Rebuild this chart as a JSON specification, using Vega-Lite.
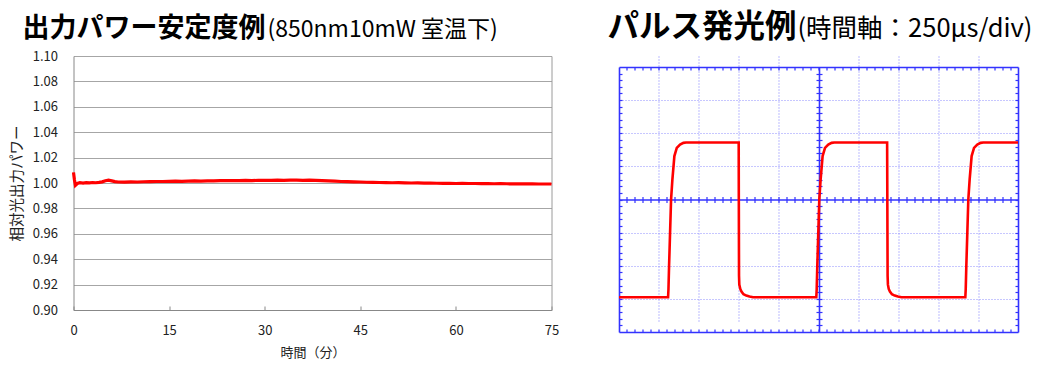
{
  "$schema": "https://vega.github.io/schema/vega-lite/v6.json",
  "autosize": "none",
  "padding": {"left": 73.5, "top": 56, "right": 20, "bottom": 40},
  "width": 944.5,
  "height": 276,
  "background": "white",
  "config": {"font": "Noto Sans CJK JP", "view": {"stroke": null}},
  "datasets": {
    "power": [
      {"minutes": 0, "power": 1.0084}, {"minutes": 0.15, "power": 1.0024}, {"minutes": 0.3, "power": 0.9982},
      {"minutes": 0.6, "power": 0.9996}, {"minutes": 1, "power": 1.0002}, {"minutes": 1.5, "power": 0.9999},
      {"minutes": 2, "power": 1.0003}, {"minutes": 2.5, "power": 1.0001}, {"minutes": 3, "power": 1.0004},
      {"minutes": 3.5, "power": 1.0002}, {"minutes": 4, "power": 1.0005}, {"minutes": 4.5, "power": 1.0009},
      {"minutes": 5, "power": 1.0018}, {"minutes": 5.5, "power": 1.0022}, {"minutes": 6, "power": 1.0017},
      {"minutes": 6.5, "power": 1.0011}, {"minutes": 7, "power": 1.0008}, {"minutes": 8, "power": 1.0007},
      {"minutes": 9, "power": 1.0009}, {"minutes": 10, "power": 1.0008}, {"minutes": 11, "power": 1.001},
      {"minutes": 12, "power": 1.0011}, {"minutes": 13, "power": 1.0012}, {"minutes": 14, "power": 1.0012},
      {"minutes": 15, "power": 1.0013}, {"minutes": 16, "power": 1.0014}, {"minutes": 17, "power": 1.0013},
      {"minutes": 18, "power": 1.0015}, {"minutes": 19, "power": 1.0016}, {"minutes": 20, "power": 1.0015},
      {"minutes": 21, "power": 1.0017}, {"minutes": 22, "power": 1.0016}, {"minutes": 23, "power": 1.0018},
      {"minutes": 24, "power": 1.0019}, {"minutes": 25, "power": 1.0018}, {"minutes": 26, "power": 1.0019},
      {"minutes": 27, "power": 1.002}, {"minutes": 28, "power": 1.0019}, {"minutes": 29, "power": 1.0021},
      {"minutes": 30, "power": 1.002}, {"minutes": 31, "power": 1.0021}, {"minutes": 32, "power": 1.0022},
      {"minutes": 33, "power": 1.0021}, {"minutes": 34, "power": 1.0023}, {"minutes": 35, "power": 1.0022},
      {"minutes": 36, "power": 1.0021}, {"minutes": 37, "power": 1.0022}, {"minutes": 38, "power": 1.002},
      {"minutes": 39, "power": 1.0018}, {"minutes": 40, "power": 1.0016}, {"minutes": 41, "power": 1.0014},
      {"minutes": 42, "power": 1.0012}, {"minutes": 43, "power": 1.0011}, {"minutes": 44, "power": 1.0009},
      {"minutes": 45, "power": 1.0008}, {"minutes": 46, "power": 1.0006}, {"minutes": 47, "power": 1.0005},
      {"minutes": 48, "power": 1.0004}, {"minutes": 49, "power": 1.0003}, {"minutes": 50, "power": 1.0002},
      {"minutes": 51, "power": 1.0003}, {"minutes": 52, "power": 1.0001}, {"minutes": 53, "power": 1.0},
      {"minutes": 54, "power": 1.0001}, {"minutes": 55, "power": 0.9999}, {"minutes": 56, "power": 1.0},
      {"minutes": 57, "power": 0.9998}, {"minutes": 58, "power": 0.9997}, {"minutes": 59, "power": 0.9998},
      {"minutes": 60, "power": 0.9996}, {"minutes": 61, "power": 0.9997}, {"minutes": 62, "power": 0.9996},
      {"minutes": 63, "power": 0.9996}, {"minutes": 64, "power": 0.9995}, {"minutes": 65, "power": 0.9995},
      {"minutes": 66, "power": 0.9994}, {"minutes": 67, "power": 0.9995}, {"minutes": 68, "power": 0.9994},
      {"minutes": 69, "power": 0.9993}, {"minutes": 70, "power": 0.9994}, {"minutes": 71, "power": 0.9993},
      {"minutes": 72, "power": 0.9993}, {"minutes": 73, "power": 0.9992}, {"minutes": 74, "power": 0.9992},
      {"minutes": 75, "power": 0.9992}
    ],
    "pulse": [
      {"t": -5, "v": -2.95},
      {"t": -3.77, "v": -2.95}, {"t": -3.76, "v": -2.7}, {"t": -3.745, "v": -2.0}, {"t": -3.72, "v": -1.0},
      {"t": -3.695, "v": 0.0}, {"t": -3.662, "v": 0.6}, {"t": -3.612, "v": 1.31}, {"t": -3.552, "v": 1.56},
      {"t": -3.47, "v": 1.66}, {"t": -3.386, "v": 1.71}, {"t": -3.32, "v": 1.72},
      {"t": -2.0, "v": 1.72}, {"t": -1.997, "v": 0.0}, {"t": -1.992, "v": -2.3}, {"t": -1.985, "v": -2.57},
      {"t": -1.96, "v": -2.7}, {"t": -1.93, "v": -2.78}, {"t": -1.88, "v": -2.86}, {"t": -1.81, "v": -2.9},
      {"t": -1.73, "v": -2.93}, {"t": -1.64, "v": -2.95},
      {"t": -0.055, "v": -2.95}, {"t": -0.045, "v": -2.7}, {"t": -0.03, "v": -2.0}, {"t": -0.005, "v": -1.0},
      {"t": 0.02, "v": 0.0}, {"t": 0.053, "v": 0.6}, {"t": 0.103, "v": 1.31}, {"t": 0.163, "v": 1.56},
      {"t": 0.245, "v": 1.66}, {"t": 0.329, "v": 1.71}, {"t": 0.395, "v": 1.72},
      {"t": 1.72, "v": 1.72}, {"t": 1.725, "v": 0.0}, {"t": 1.732, "v": -2.3}, {"t": 1.74, "v": -2.57},
      {"t": 1.76, "v": -2.7}, {"t": 1.79, "v": -2.78}, {"t": 1.84, "v": -2.86}, {"t": 1.91, "v": -2.9},
      {"t": 1.99, "v": -2.93}, {"t": 2.08, "v": -2.95},
      {"t": 3.68, "v": -2.95}, {"t": 3.69, "v": -2.7}, {"t": 3.705, "v": -2.0}, {"t": 3.73, "v": -1.0},
      {"t": 3.755, "v": 0.0}, {"t": 3.788, "v": 0.6}, {"t": 3.838, "v": 1.31}, {"t": 3.898, "v": 1.56},
      {"t": 3.98, "v": 1.66}, {"t": 4.064, "v": 1.71}, {"t": 4.13, "v": 1.72},
      {"t": 5, "v": 1.72}
    ]
  },
  "layer": [
    {
      "data": {"name": "power"},
      "mark": {"type": "line", "color": "#ff0000", "strokeWidth": 3.2},
      "encoding": {
        "x": {
          "field": "minutes", "type": "quantitative",
          "scale": {"domain": [0, 75], "range": [0, 478], "nice": false, "zero": false},
          "axis": {
            "orient": "bottom", "offset": -22,
            "values": [0, 15, 30, 45, 60, 75], "grid": false, "labelFlush": false,
            "domainColor": "#888888", "tickColor": "#888888", "tickSize": -4,
            "labelPadding": 18, "labelFontSize": 13, "labelColor": "#222222",
            "title": "時間（分）", "titleFontSize": 13, "titleFontWeight": "normal", "titleColor": "#222222",
            "titleY": 42, "titleBaseline": "middle", "titleAlign": "center", "titleX": 239
          }
        },
        "y": {
          "field": "power", "type": "quantitative",
          "scale": {"domain": [0.9, 1.1], "range": [254, 0], "nice": false, "zero": false},
          "axis": {
            "orient": "left",
            "values": [0.9, 0.92, 0.94, 0.96, 0.98, 1.0, 1.02, 1.04, 1.06, 1.08, 1.1],
            "format": ".2f", "grid": true, "gridColor": "#a6a6a6", "gridWidth": 1,
            "domainColor": "#888888", "ticks": false, "labelPadding": 16,
            "labelFontSize": 13, "labelColor": "#222222",
            "title": "相対光出力パワー", "titleFontSize": 14.5, "titleFontWeight": "normal", "titleColor": "#222222",
            "titleX": -56, "titleY": 127, "titleAngle": -90, "titleBaseline": "middle", "titleAlign": "center"
          }
        }
      }
    },
    {
      "data": {"name": "power"},
      "mark": {"type": "point", "opacity": 0},
      "encoding": {
        "x": {
          "field": "minutes", "type": "quantitative",
          "scale": {"domain": [0, 75], "range": [0, 478], "nice": false, "zero": false},
          "axis": {
            "orient": "top", "domain": false, "ticks": false, "labels": false, "grid": false,
            "title": "出力パワー安定度例", "titleFontSize": 27, "titleFontWeight": "bold", "titleColor": "#000000",
            "titleX": -51.5, "titleY": -20, "titleAlign": "left", "titleBaseline": "alphabetic"
          }
        },
        "y": {
          "field": "power", "type": "quantitative",
          "scale": {"domain": [0.9, 1.1], "range": [254, 0], "nice": false, "zero": false},
          "axis": {
            "orient": "right", "offset": -466.5, "domain": true, "domainColor": "#9a9a9a",
            "ticks": false, "labels": false, "grid": false, "title": null
          }
        }
      }
    },
    {
      "data": {"name": "power"},
      "mark": {"type": "point", "opacity": 0},
      "encoding": {
        "x": {
          "field": "minutes", "type": "quantitative",
          "scale": {"domain": [0, 75], "range": [0, 478], "nice": false, "zero": false},
          "axis": {
            "orient": "top", "domain": false, "ticks": false, "labels": false, "grid": false,
            "title": "(850nm10mW 室温下)", "titleFontSize": 23, "titleFontWeight": "normal", "titleColor": "#000000",
            "titleX": 193.5, "titleY": -20, "titleAlign": "left", "titleBaseline": "alphabetic"
          }
        }
      }
    },
    {
      "data": {"name": "pulse"},
      "mark": {"type": "line", "color": "#ff0000", "strokeWidth": 2.6},
      "encoding": {
        "x": {
          "field": "t", "type": "quantitative",
          "scale": {"domain": [-5, 5], "range": [545.5, 944.5], "nice": false, "zero": false},
          "axis": {
            "orient": "bottom", "values": [-4, -3, -2, -1, 1, 2, 3, 4], "grid": true,
            "gridColor": "#9090ff", "gridDash": [1, 2], "gridWidth": 1.2,
            "domain": true, "domainColor": "#3333ff", "domainWidth": 1.6,
            "ticks": false, "labels": false, "title": null
          }
        },
        "y": {
          "field": "v", "type": "quantitative",
          "scale": {"domain": [-4, 4], "range": [276, 11], "nice": false, "zero": false},
          "axis": {
            "orient": "left", "offset": -545.5, "values": [-3, -2, -1, 1, 2, 3], "grid": true,
            "gridColor": "#9090ff", "gridDash": [1, 2], "gridWidth": 1.2,
            "domain": true, "domainColor": "#3333ff", "domainWidth": 1.6,
            "ticks": false, "labels": false, "title": null
          }
        }
      }
    },
    {
      "data": {"name": "pulse"},
      "mark": {"type": "point", "opacity": 0},
      "encoding": {
        "x": {
          "field": "t", "type": "quantitative",
          "scale": {"domain": [-5, 5], "range": [545.5, 944.5], "nice": false, "zero": false},
          "axis": {
            "orient": "top", "offset": -11,
            "values": [-4.8,-4.6,-4.4,-4.2,-4,-3.8,-3.6,-3.4,-3.2,-3,-2.8,-2.6,-2.4,-2.2,-2,-1.8,-1.6,-1.4,-1.2,-1,-0.8,-0.6,-0.4,-0.2,0,0.2,0.4,0.6,0.8,1,1.2,1.4,1.6,1.8,2,2.2,2.4,2.6,2.8,3,3.2,3.4,3.6,3.8,4,4.2,4.4,4.6,4.8],
            "grid": false, "domain": true, "domainColor": "#3333ff", "domainWidth": 1.6,
            "ticks": true, "tickColor": "#3333ff", "tickSize": -3, "tickWidth": 1.2,
            "labels": false, "title": null
          }
        },
        "y": {
          "field": "v", "type": "quantitative",
          "scale": {"domain": [-4, 4], "range": [276, 11], "nice": false, "zero": false},
          "axis": {
            "orient": "right",
            "values": [-3.8,-3.6,-3.4,-3.2,-3,-2.8,-2.6,-2.4,-2.2,-2,-1.8,-1.6,-1.4,-1.2,-1,-0.8,-0.6,-0.4,-0.2,0,0.2,0.4,0.6,0.8,1,1.2,1.4,1.6,1.8,2,2.2,2.4,2.6,2.8,3,3.2,3.4,3.6,3.8],
            "grid": false, "domain": true, "domainColor": "#3333ff", "domainWidth": 1.6,
            "ticks": true, "tickColor": "#3333ff", "tickSize": -3, "tickWidth": 1.2,
            "labels": false, "title": null
          }
        }
      }
    },
    {
      "data": {"name": "pulse"},
      "mark": {"type": "point", "opacity": 0},
      "encoding": {
        "x": {
          "field": "t", "type": "quantitative",
          "scale": {"domain": [-5, 5], "range": [545.5, 944.5], "nice": false, "zero": false},
          "axis": {
            "orient": "bottom",
            "values": [-4.8,-4.6,-4.4,-4.2,-4,-3.8,-3.6,-3.4,-3.2,-3,-2.8,-2.6,-2.4,-2.2,-2,-1.8,-1.6,-1.4,-1.2,-1,-0.8,-0.6,-0.4,-0.2,0,0.2,0.4,0.6,0.8,1,1.2,1.4,1.6,1.8,2,2.2,2.4,2.6,2.8,3,3.2,3.4,3.6,3.8,4,4.2,4.4,4.6,4.8],
            "grid": false, "domain": false,
            "ticks": true, "tickColor": "#3333ff", "tickSize": -3, "tickWidth": 1.2,
            "labels": false, "title": null
          }
        },
        "y": {
          "field": "v", "type": "quantitative",
          "scale": {"domain": [-4, 4], "range": [276, 11], "nice": false, "zero": false},
          "axis": {
            "orient": "left", "offset": -545.5,
            "values": [-3.8,-3.6,-3.4,-3.2,-3,-2.8,-2.6,-2.4,-2.2,-2,-1.8,-1.6,-1.4,-1.2,-1,-0.8,-0.6,-0.4,-0.2,0,0.2,0.4,0.6,0.8,1,1.2,1.4,1.6,1.8,2,2.2,2.4,2.6,2.8,3,3.2,3.4,3.6,3.8],
            "grid": false, "domain": false,
            "ticks": true, "tickColor": "#3333ff", "tickSize": -3, "tickWidth": 1.2,
            "labels": false, "title": null
          }
        }
      }
    },
    {
      "data": {"name": "pulse"},
      "mark": {"type": "point", "opacity": 0},
      "encoding": {
        "x": {
          "field": "t", "type": "quantitative",
          "scale": {"domain": [-5, 5], "range": [545.5, 944.5], "nice": false, "zero": false},
          "axis": {
            "orient": "bottom", "offset": -132.5,
            "values": [-4.8,-4.6,-4.4,-4.2,-4,-3.8,-3.6,-3.4,-3.2,-3,-2.8,-2.6,-2.4,-2.2,-2,-1.8,-1.6,-1.4,-1.2,-1,-0.8,-0.6,-0.4,-0.2,0.2,0.4,0.6,0.8,1,1.2,1.4,1.6,1.8,2,2.2,2.4,2.6,2.8,3,3.2,3.4,3.6,3.8,4,4.2,4.4,4.6,4.8],
            "grid": false, "domain": true, "domainColor": "#3333ff", "domainWidth": 1.6,
            "ticks": true, "tickColor": "#3333ff", "tickSize": 3, "tickWidth": 1.2,
            "labels": false, "title": null
          }
        },
        "y": {
          "field": "v", "type": "quantitative",
          "scale": {"domain": [-4, 4], "range": [276, 11], "nice": false, "zero": false},
          "axis": {
            "orient": "left", "offset": -745.5,
            "values": [-3.8,-3.6,-3.4,-3.2,-3,-2.8,-2.6,-2.4,-2.2,-2,-1.8,-1.6,-1.4,-1.2,-1,-0.8,-0.6,-0.4,-0.2,0.2,0.4,0.6,0.8,1,1.2,1.4,1.6,1.8,2,2.2,2.4,2.6,2.8,3,3.2,3.4,3.6,3.8],
            "grid": false, "domain": true, "domainColor": "#3333ff", "domainWidth": 1.6,
            "ticks": true, "tickColor": "#3333ff", "tickSize": 3, "tickWidth": 1.2,
            "labels": false, "title": null
          }
        }
      }
    },
    {
      "data": {"name": "pulse"},
      "mark": {"type": "point", "opacity": 0},
      "encoding": {
        "x": {
          "field": "t", "type": "quantitative",
          "scale": {"domain": [-5, 5], "range": [545.5, 944.5], "nice": false, "zero": false},
          "axis": {
            "orient": "bottom", "offset": -132.5,
            "values": [-4.8,-4.6,-4.4,-4.2,-4,-3.8,-3.6,-3.4,-3.2,-3,-2.8,-2.6,-2.4,-2.2,-2,-1.8,-1.6,-1.4,-1.2,-1,-0.8,-0.6,-0.4,-0.2,0.2,0.4,0.6,0.8,1,1.2,1.4,1.6,1.8,2,2.2,2.4,2.6,2.8,3,3.2,3.4,3.6,3.8,4,4.2,4.4,4.6,4.8],
            "grid": false, "domain": false,
            "ticks": true, "tickColor": "#3333ff", "tickSize": -3, "tickWidth": 1.2,
            "labels": false, "title": null
          }
        },
        "y": {
          "field": "v", "type": "quantitative",
          "scale": {"domain": [-4, 4], "range": [276, 11], "nice": false, "zero": false},
          "axis": {
            "orient": "left", "offset": -745.5,
            "values": [-3.8,-3.6,-3.4,-3.2,-3,-2.8,-2.6,-2.4,-2.2,-2,-1.8,-1.6,-1.4,-1.2,-1,-0.8,-0.6,-0.4,-0.2,0.2,0.4,0.6,0.8,1,1.2,1.4,1.6,1.8,2,2.2,2.4,2.6,2.8,3,3.2,3.4,3.6,3.8],
            "grid": false, "domain": false,
            "ticks": true, "tickColor": "#3333ff", "tickSize": -3, "tickWidth": 1.2,
            "labels": false, "title": null
          }
        }
      }
    },
    {
      "data": {"name": "pulse"},
      "mark": {"type": "point", "opacity": 0},
      "encoding": {
        "x": {
          "field": "t", "type": "quantitative",
          "scale": {"domain": [-5, 5], "range": [545.5, 944.5], "nice": false, "zero": false},
          "axis": {
            "orient": "top", "domain": false, "ticks": false, "labels": false, "grid": false,
            "title": "パルス発光例", "titleFontSize": 31.5, "titleFontWeight": "bold", "titleColor": "#000000",
            "titleX": 533.5, "titleY": -20, "titleAlign": "left", "titleBaseline": "alphabetic"
          }
        }
      }
    },
    {
      "data": {"name": "pulse"},
      "mark": {"type": "point", "opacity": 0},
      "encoding": {
        "x": {
          "field": "t", "type": "quantitative",
          "scale": {"domain": [-5, 5], "range": [545.5, 944.5], "nice": false, "zero": false},
          "axis": {
            "orient": "top", "domain": false, "ticks": false, "labels": false, "grid": false,
            "title": "(時間軸：250μs/div)", "titleFontSize": 25.5, "titleFontWeight": "normal", "titleColor": "#000000",
            "titleX": 723.5, "titleY": -20, "titleAlign": "left", "titleBaseline": "alphabetic"
          }
        }
      }
    }
  ],
  "resolve": {
    "scale": {"x": "independent", "y": "independent"},
    "axis": {"x": "independent", "y": "independent"}
  }
}
